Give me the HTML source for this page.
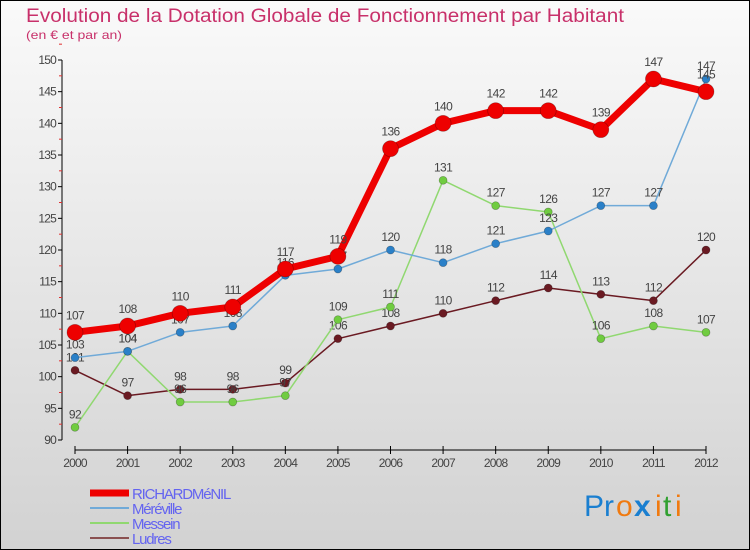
<!DOCTYPE html>
<html><head><meta charset="utf-8"><style>
body{margin:0;width:750px;height:550px;overflow:hidden;font-family:"Liberation Sans",sans-serif}
svg{display:block}
</style></head><body>
<svg id="chart" width="750" height="550" xmlns="http://www.w3.org/2000/svg">
<defs><linearGradient id="bg" x1="0" y1="0" x2="0" y2="1"><stop offset="0" stop-color="#fafafa"/><stop offset="1" stop-color="#d2d2d2"/></linearGradient></defs>
<rect x="0.5" y="0.5" width="749" height="549" fill="url(#bg)" stroke="#000"/>
<text x="26" y="22" font-size="19" fill="#c8306a" textLength="598" lengthAdjust="spacingAndGlyphs">Evolution de la Dotation Globale de Fonctionnement par Habitant</text>
<text x="26" y="39" font-size="12" fill="#c8306a" textLength="96" lengthAdjust="spacingAndGlyphs">(en € et par an)</text>
<g id="axes"></g><g id="series"></g><g id="legend"></g>
<g font-size="30" font-family="'Liberation Sans',sans-serif">
<text x="584" y="516" fill="#1a7fd0">P</text><text x="604" y="516" fill="#1a7fd0">r</text><text x="616" y="516" fill="#f07a10">o</text><text x="634" y="516" fill="#1a7fd0" font-weight="bold">x</text><text x="655" y="516" fill="#f07a10">i</text><text x="663" y="516" fill="#30a030">t</text><text x="675" y="516" fill="#f07a10">i</text>
</g>
</svg>
<script>
const years=[2000,2001,2002,2003,2004,2005,2006,2007,2008,2009,2010,2011,2012];
const yTicks=[90,95,100,105,110,115,120,125,130,135,140,145,150];
const richardmenil=[107,108,110,111,117,119,136,140,142,142,139,147,145];
const mereville=[103,104,107,108,116,117,120,118,121,123,127,127,147];
const messein=[92,104,96,96,97,109,111,131,127,126,106,108,107];
const ludres=[101,97,98,98,99,106,108,110,112,114,113,112,120];
const NS="http://www.w3.org/2000/svg";
const X0=75,X1=706,Y0=440,Y1=60,VMIN=90,VMAX=150;
const xs=i=>X0+(X1-X0)*i/(years.length-1);
const ys=v=>Y0-(v-VMIN)*(Y0-Y1)/(VMAX-VMIN);
function mk(tag,at,parent){const e=document.createElementNS(NS,tag);for(const k in at)e.setAttribute(k,at[k]);parent.appendChild(e);return e;}
const axes=document.getElementById('axes');
let a=mk('line',{x1:62,y1:ys(VMIN),x2:62,y2:ys(VMAX),stroke:'#000'},axes);

yTicks.forEach(t=>{
  const y=ys(t);
  mk('line',{x1:58,y1:y,x2:62,y2:y,stroke:'#000'},axes);
  mk('line',{x1:59,y1:ys(t+2.5),x2:62,y2:ys(t+2.5),stroke:'#e03030'},axes);
  const tx=mk('text',{x:56,y:y+4,'font-size':12,fill:'#444','text-anchor':'end','letter-spacing':'-0.8'},axes);
  tx.textContent=t;
  
  
});
let b=mk('line',{x1:X0,y1:450,x2:X1,y2:450,stroke:'#000'},axes);

years.forEach((yr,i)=>{
  mk('line',{x1:xs(i),y1:446,x2:xs(i),y2:454,stroke:'#000'},axes);
  const tx=mk('text',{x:xs(i),y:467,'font-size':12,fill:'#444','text-anchor':'middle','letter-spacing':'-0.8'},axes);
  tx.textContent=yr;
  
  
});
const seriesG=document.getElementById('series');
const defs=[
 {name:'ludres',data:ludres,color:'#6a1a22',w:1.5,r:4,pt:'#6a1a22'},
 {name:'messein',data:messein,color:'#90d870',w:1.5,r:4,pt:'#70cc40'},
 {name:'mereville',data:mereville,color:'#70aad8',w:1.5,r:4,pt:'#2a80c8'},
 {name:'richardmenil',data:richardmenil,color:'#ee0000',w:7,r:8,pt:'#ee0000'}
];
defs.forEach(s=>{
  const g=mk('g',{},seriesG);
  
  
  const p=mk('polyline',{points:s.data.map((v,i)=>xs(i)+','+ys(v)).join(' '),fill:'none',stroke:s.color,'stroke-width':s.w,'stroke-linejoin':'round'},g);
  
  
  s.data.forEach((v,i)=>{
    const c=mk('circle',{cx:xs(i),cy:ys(v),r:s.r,fill:s.pt,stroke:'rgba(0,0,0,0.3)','stroke-width':0.7},g);
    
    
    const t=mk('text',{x:xs(i),y:ys(v)-(s.r+5),'font-size':12,fill:'#444','text-anchor':'middle','letter-spacing':'-0.6'},g);
    t.textContent=v;
    
    
  });
});
const leg=document.getElementById('legend');
const items=[['RICHARDMéNIL','#ee0000',7],['Méréville','#70aad8',2],['Messein','#90d870',2],['Ludres','#8a5050',2]];
items.forEach((it,k)=>{
  const y=493+k*15;
  const g=mk('g',{},leg);
  
  
  mk('line',{x1:90,y1:y,x2:129,y2:y,stroke:it[1],'stroke-width':it[2]},g);
  const t=mk('text',{x:132,y:y+6,'font-size':15,fill:'#6464f0','letter-spacing':'-1.2'},g);
  t.textContent=it[0];
});
</script>
</body></html>
